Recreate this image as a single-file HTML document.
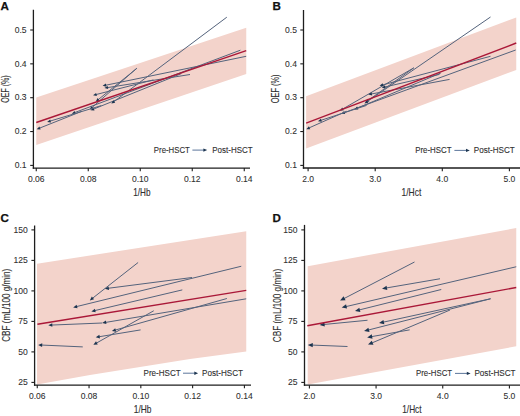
<!DOCTYPE html>
<html><head><meta charset="utf-8"><style>
html,body{margin:0;padding:0;background:#fff;width:520px;height:416px;overflow:hidden;}
svg text{font-family:'Liberation Sans', sans-serif;}
</style></head><body>
<svg width="520" height="416" viewBox="0 0 520 416" style="display:block;font-family:'Liberation Sans', sans-serif">
<rect width="520" height="416" fill="#fff"/>
<clipPath id="ca"><rect x="34.00" y="0" width="216.60" height="167.50"/></clipPath>
<g clip-path="url(#ca)">
<polygon points="36.25,97.60 246.25,27.75 246.25,73.90 36.25,145.10" fill="#f3d3cb"/>
</g>
<line x1="136.80" y1="68.20" x2="92.05" y2="107.51" stroke="#54637c" stroke-width="1.0"/>
<polygon points="89.72,109.56 91.37,105.98 93.48,108.38" fill="#1c3550"/>
<line x1="190.00" y1="74.50" x2="107.48" y2="87.62" stroke="#54637c" stroke-width="1.0"/>
<polygon points="104.42,88.10 107.72,85.96 108.22,89.12" fill="#1c3550"/>
<line x1="240.40" y1="50.20" x2="74.68" y2="112.57" stroke="#54637c" stroke-width="1.0"/>
<polygon points="71.78,113.66 74.59,110.89 75.72,113.89" fill="#1c3550"/>
<line x1="181.40" y1="73.60" x2="93.47" y2="109.13" stroke="#54637c" stroke-width="1.0"/>
<polygon points="90.59,110.29 93.33,107.45 94.53,110.42" fill="#1c3550"/>
<line x1="101.30" y1="105.60" x2="50.12" y2="121.08" stroke="#54637c" stroke-width="1.0"/>
<polygon points="47.16,121.98 50.14,119.40 51.06,122.47" fill="#1c3550"/>
<line x1="153.40" y1="79.90" x2="96.04" y2="94.55" stroke="#54637c" stroke-width="1.0"/>
<polygon points="93.04,95.32 96.13,92.88 96.92,95.98" fill="#1c3550"/>
<line x1="246.20" y1="56.30" x2="105.66" y2="85.24" stroke="#54637c" stroke-width="1.0"/>
<polygon points="102.63,85.86 105.83,83.57 106.48,86.70" fill="#1c3550"/>
<line x1="136.80" y1="68.40" x2="98.20" y2="99.67" stroke="#54637c" stroke-width="1.0"/>
<polygon points="95.79,101.62 97.58,98.11 99.59,100.60" fill="#1c3550"/>
<line x1="226.80" y1="17.20" x2="113.84" y2="101.72" stroke="#54637c" stroke-width="1.0"/>
<polygon points="111.36,103.58 113.28,100.14 115.20,102.70" fill="#1c3550"/>
<line x1="81.80" y1="111.30" x2="39.57" y2="128.13" stroke="#54637c" stroke-width="1.0"/>
<polygon points="36.69,129.28 39.44,126.46 40.63,129.43" fill="#1c3550"/>
<line x1="36.25" y1="122.50" x2="246.25" y2="50.60" stroke="#aa1838" stroke-width="1.4"/>
<line x1="33.40" y1="9.75" x2="33.40" y2="168.75" stroke="#1e1e1e" stroke-width="1.3"/>
<line x1="32.75" y1="168.10" x2="250.00" y2="168.10" stroke="#1e1e1e" stroke-width="1.3"/>
<line x1="30.20" y1="30.00" x2="33.40" y2="30.00" stroke="#1e1e1e" stroke-width="1.1"/>
<text transform="translate(26.60,32.75) scale(0.91,1)" font-size="9.4" text-anchor="end" font-weight="normal" fill="#2e2e2e" stroke="#2e2e2e" stroke-width="0.08">0.5</text>
<line x1="30.20" y1="63.85" x2="33.40" y2="63.85" stroke="#1e1e1e" stroke-width="1.1"/>
<text transform="translate(26.60,66.60) scale(0.91,1)" font-size="9.4" text-anchor="end" font-weight="normal" fill="#2e2e2e" stroke="#2e2e2e" stroke-width="0.08">0.4</text>
<line x1="30.20" y1="97.70" x2="33.40" y2="97.70" stroke="#1e1e1e" stroke-width="1.1"/>
<text transform="translate(26.60,100.45) scale(0.91,1)" font-size="9.4" text-anchor="end" font-weight="normal" fill="#2e2e2e" stroke="#2e2e2e" stroke-width="0.08">0.3</text>
<line x1="30.20" y1="131.55" x2="33.40" y2="131.55" stroke="#1e1e1e" stroke-width="1.1"/>
<text transform="translate(26.60,134.30) scale(0.91,1)" font-size="9.4" text-anchor="end" font-weight="normal" fill="#2e2e2e" stroke="#2e2e2e" stroke-width="0.08">0.2</text>
<line x1="30.20" y1="165.40" x2="33.40" y2="165.40" stroke="#1e1e1e" stroke-width="1.1"/>
<text transform="translate(26.60,168.15) scale(0.91,1)" font-size="9.4" text-anchor="end" font-weight="normal" fill="#2e2e2e" stroke="#2e2e2e" stroke-width="0.08">0.1</text>
<line x1="36.25" y1="168.10" x2="36.25" y2="171.30" stroke="#1e1e1e" stroke-width="1.1"/>
<text transform="translate(36.25,182.00) scale(0.92,1)" font-size="9.3" text-anchor="middle" font-weight="normal" fill="#2e2e2e" stroke="#2e2e2e" stroke-width="0.08">0.06</text>
<line x1="88.25" y1="168.10" x2="88.25" y2="171.30" stroke="#1e1e1e" stroke-width="1.1"/>
<text transform="translate(88.25,182.00) scale(0.92,1)" font-size="9.3" text-anchor="middle" font-weight="normal" fill="#2e2e2e" stroke="#2e2e2e" stroke-width="0.08">0.08</text>
<line x1="140.25" y1="168.10" x2="140.25" y2="171.30" stroke="#1e1e1e" stroke-width="1.1"/>
<text transform="translate(140.25,182.00) scale(0.92,1)" font-size="9.3" text-anchor="middle" font-weight="normal" fill="#2e2e2e" stroke="#2e2e2e" stroke-width="0.08">0.10</text>
<line x1="192.25" y1="168.10" x2="192.25" y2="171.30" stroke="#1e1e1e" stroke-width="1.1"/>
<text transform="translate(192.25,182.00) scale(0.92,1)" font-size="9.3" text-anchor="middle" font-weight="normal" fill="#2e2e2e" stroke="#2e2e2e" stroke-width="0.08">0.12</text>
<line x1="244.25" y1="168.10" x2="244.25" y2="171.30" stroke="#1e1e1e" stroke-width="1.1"/>
<text transform="translate(244.25,182.00) scale(0.92,1)" font-size="9.3" text-anchor="middle" font-weight="normal" fill="#2e2e2e" stroke="#2e2e2e" stroke-width="0.08">0.14</text>
<text x="141.80" y="196.20" font-size="10.3" text-anchor="middle" font-weight="normal" fill="#2e2e2e" stroke="#2e2e2e" stroke-width="0.12" textLength="17.3" lengthAdjust="spacingAndGlyphs">1/Hb</text>
<text transform="translate(9.30,89.00) rotate(-90)" x="0" y="0" font-size="10" text-anchor="middle" fill="#2e2e2e" stroke="#2e2e2e" stroke-width="0.12" textLength="27.3" lengthAdjust="spacingAndGlyphs">OEF (%)</text>
<text x="0.60" y="10.20" font-size="11.6" text-anchor="start" font-weight="bold" fill="#111" stroke="#111" stroke-width="0.25">A</text>
<text x="153.85" y="152.90" font-size="9.2" text-anchor="start" font-weight="normal" fill="#2e2e2e" stroke="#2e2e2e" stroke-width="0.1" textLength="36.05" lengthAdjust="spacingAndGlyphs">Pre-HSCT</text>
<line x1="192.40" y1="150.10" x2="204.20" y2="150.10" stroke="#4a6690" stroke-width="0.9"/>
<polygon points="207.20,150.10 203.40,148.40 203.40,151.80" fill="#1c3550"/>
<text x="212.30" y="152.90" font-size="9.2" text-anchor="start" font-weight="normal" fill="#2e2e2e" stroke="#2e2e2e" stroke-width="0.1" textLength="40.30" lengthAdjust="spacingAndGlyphs">Post-HSCT</text>
<clipPath id="cb"><rect x="304.10" y="0" width="216.50" height="167.40"/></clipPath>
<g clip-path="url(#cb)">
<polygon points="306.10,96.25 516.25,17.50 516.25,70.00 306.10,148.50" fill="#f3d3cb"/>
</g>
<line x1="413.90" y1="67.80" x2="342.56" y2="109.10" stroke="#54637c" stroke-width="1.0"/>
<polygon points="339.87,110.65 342.19,107.46 343.79,110.23" fill="#1c3550"/>
<line x1="439.50" y1="74.40" x2="384.85" y2="87.00" stroke="#54637c" stroke-width="1.0"/>
<polygon points="381.83,87.69 384.98,85.32 385.70,88.44" fill="#1c3550"/>
<line x1="515.70" y1="50.00" x2="344.19" y2="112.68" stroke="#54637c" stroke-width="1.0"/>
<polygon points="341.28,113.75 344.11,111.01 345.21,114.01" fill="#1c3550"/>
<line x1="440.80" y1="73.00" x2="357.26" y2="108.20" stroke="#54637c" stroke-width="1.0"/>
<polygon points="354.40,109.40 357.10,106.53 358.34,109.48" fill="#1c3550"/>
<line x1="366.60" y1="105.40" x2="320.91" y2="120.34" stroke="#54637c" stroke-width="1.0"/>
<polygon points="317.96,121.30 320.89,118.66 321.88,121.71" fill="#1c3550"/>
<line x1="449.60" y1="79.40" x2="371.37" y2="93.97" stroke="#54637c" stroke-width="1.0"/>
<polygon points="368.32,94.54 371.57,92.31 372.15,95.45" fill="#1c3550"/>
<line x1="490.50" y1="56.30" x2="382.54" y2="84.94" stroke="#54637c" stroke-width="1.0"/>
<polygon points="379.54,85.73 382.61,83.26 383.43,86.36" fill="#1c3550"/>
<line x1="413.60" y1="68.00" x2="367.97" y2="100.46" stroke="#54637c" stroke-width="1.0"/>
<polygon points="365.44,102.25 367.45,98.86 369.30,101.47" fill="#1c3550"/>
<line x1="490.50" y1="17.00" x2="367.08" y2="101.68" stroke="#54637c" stroke-width="1.0"/>
<polygon points="364.53,103.44 366.59,100.08 368.40,102.72" fill="#1c3550"/>
<line x1="346.40" y1="111.30" x2="309.14" y2="127.87" stroke="#54637c" stroke-width="1.0"/>
<polygon points="306.31,129.13 308.95,126.20 310.25,129.13" fill="#1c3550"/>
<line x1="306.10" y1="123.10" x2="516.25" y2="43.00" stroke="#aa1838" stroke-width="1.4"/>
<line x1="303.50" y1="10.00" x2="303.50" y2="168.65" stroke="#1e1e1e" stroke-width="1.3"/>
<line x1="302.85" y1="168.00" x2="520.00" y2="168.00" stroke="#1e1e1e" stroke-width="1.3"/>
<line x1="300.30" y1="30.00" x2="303.50" y2="30.00" stroke="#1e1e1e" stroke-width="1.1"/>
<text transform="translate(296.90,32.75) scale(0.91,1)" font-size="9.4" text-anchor="end" font-weight="normal" fill="#2e2e2e" stroke="#2e2e2e" stroke-width="0.08">0.5</text>
<line x1="300.30" y1="63.85" x2="303.50" y2="63.85" stroke="#1e1e1e" stroke-width="1.1"/>
<text transform="translate(296.90,66.60) scale(0.91,1)" font-size="9.4" text-anchor="end" font-weight="normal" fill="#2e2e2e" stroke="#2e2e2e" stroke-width="0.08">0.4</text>
<line x1="300.30" y1="97.70" x2="303.50" y2="97.70" stroke="#1e1e1e" stroke-width="1.1"/>
<text transform="translate(296.90,100.45) scale(0.91,1)" font-size="9.4" text-anchor="end" font-weight="normal" fill="#2e2e2e" stroke="#2e2e2e" stroke-width="0.08">0.3</text>
<line x1="300.30" y1="131.55" x2="303.50" y2="131.55" stroke="#1e1e1e" stroke-width="1.1"/>
<text transform="translate(296.90,134.30) scale(0.91,1)" font-size="9.4" text-anchor="end" font-weight="normal" fill="#2e2e2e" stroke="#2e2e2e" stroke-width="0.08">0.2</text>
<line x1="300.30" y1="165.40" x2="303.50" y2="165.40" stroke="#1e1e1e" stroke-width="1.1"/>
<text transform="translate(296.90,168.15) scale(0.91,1)" font-size="9.4" text-anchor="end" font-weight="normal" fill="#2e2e2e" stroke="#2e2e2e" stroke-width="0.08">0.1</text>
<line x1="308.10" y1="168.00" x2="308.10" y2="171.20" stroke="#1e1e1e" stroke-width="1.1"/>
<text transform="translate(308.10,182.00) scale(0.92,1)" font-size="9.3" text-anchor="middle" font-weight="normal" fill="#2e2e2e" stroke="#2e2e2e" stroke-width="0.08">2.0</text>
<line x1="375.20" y1="168.00" x2="375.20" y2="171.20" stroke="#1e1e1e" stroke-width="1.1"/>
<text transform="translate(375.20,182.00) scale(0.92,1)" font-size="9.3" text-anchor="middle" font-weight="normal" fill="#2e2e2e" stroke="#2e2e2e" stroke-width="0.08">3.0</text>
<line x1="442.30" y1="168.00" x2="442.30" y2="171.20" stroke="#1e1e1e" stroke-width="1.1"/>
<text transform="translate(442.30,182.00) scale(0.92,1)" font-size="9.3" text-anchor="middle" font-weight="normal" fill="#2e2e2e" stroke="#2e2e2e" stroke-width="0.08">4.0</text>
<line x1="509.40" y1="168.00" x2="509.40" y2="171.20" stroke="#1e1e1e" stroke-width="1.1"/>
<text transform="translate(509.40,182.00) scale(0.92,1)" font-size="9.3" text-anchor="middle" font-weight="normal" fill="#2e2e2e" stroke="#2e2e2e" stroke-width="0.08">5.0</text>
<text x="411.40" y="196.20" font-size="10.3" text-anchor="middle" font-weight="normal" fill="#2e2e2e" stroke="#2e2e2e" stroke-width="0.12" textLength="19.7" lengthAdjust="spacingAndGlyphs">1/Hct</text>
<text transform="translate(279.30,88.90) rotate(-90)" x="0" y="0" font-size="10" text-anchor="middle" fill="#2e2e2e" stroke="#2e2e2e" stroke-width="0.12" textLength="28.9" lengthAdjust="spacingAndGlyphs">OEF (%)</text>
<text x="272.40" y="10.20" font-size="11.6" text-anchor="start" font-weight="bold" fill="#111" stroke="#111" stroke-width="0.25">B</text>
<text x="415.20" y="152.70" font-size="9.2" text-anchor="start" font-weight="normal" fill="#2e2e2e" stroke="#2e2e2e" stroke-width="0.1" textLength="36.30" lengthAdjust="spacingAndGlyphs">Pre-HSCT</text>
<line x1="454.40" y1="150.40" x2="466.80" y2="150.40" stroke="#4a6690" stroke-width="0.9"/>
<polygon points="469.80,150.40 466.00,148.70 466.00,152.10" fill="#1c3550"/>
<text x="473.80" y="152.70" font-size="9.2" text-anchor="start" font-weight="normal" fill="#2e2e2e" stroke="#2e2e2e" stroke-width="0.1" textLength="41.00" lengthAdjust="spacingAndGlyphs">Post-HSCT</text>
<clipPath id="cc"><rect x="35.20" y="0" width="216.40" height="384.50"/></clipPath>
<g clip-path="url(#cc)">
<polygon points="37.00,263.70 246.25,231.30 246.25,351.40 190.00,358.90 90.00,375.10 37.00,384.50" fill="#f3d3cb"/>
</g>
<line x1="138.10" y1="262.50" x2="92.55" y2="298.24" stroke="#54637c" stroke-width="1.0"/>
<polygon points="89.80,300.40 91.84,296.51 94.06,299.35" fill="#1c3550"/>
<line x1="192.00" y1="277.50" x2="108.37" y2="288.25" stroke="#54637c" stroke-width="1.0"/>
<polygon points="104.90,288.70 108.64,286.40 109.10,289.98" fill="#1c3550"/>
<line x1="241.25" y1="266.25" x2="76.60" y2="306.57" stroke="#54637c" stroke-width="1.0"/>
<polygon points="73.20,307.40 76.66,304.70 77.51,308.20" fill="#1c3550"/>
<line x1="182.30" y1="289.90" x2="94.81" y2="310.59" stroke="#54637c" stroke-width="1.0"/>
<polygon points="91.40,311.40 94.88,308.73 95.71,312.23" fill="#1c3550"/>
<line x1="102.20" y1="323.00" x2="51.80" y2="325.06" stroke="#54637c" stroke-width="1.0"/>
<polygon points="48.30,325.20 52.22,323.24 52.37,326.84" fill="#1c3550"/>
<line x1="153.75" y1="310.75" x2="96.45" y2="343.08" stroke="#54637c" stroke-width="1.0"/>
<polygon points="93.40,344.80 96.00,341.27 97.77,344.40" fill="#1c3550"/>
<line x1="246.20" y1="298.80" x2="105.65" y2="322.42" stroke="#54637c" stroke-width="1.0"/>
<polygon points="102.20,323.00 105.85,320.56 106.44,324.11" fill="#1c3550"/>
<line x1="140.60" y1="329.90" x2="99.20" y2="336.73" stroke="#54637c" stroke-width="1.0"/>
<polygon points="95.75,337.30 99.40,334.87 99.99,338.42" fill="#1c3550"/>
<line x1="226.90" y1="298.50" x2="115.27" y2="330.05" stroke="#54637c" stroke-width="1.0"/>
<polygon points="111.90,331.00 115.26,328.18 116.24,331.64" fill="#1c3550"/>
<line x1="82.75" y1="346.90" x2="41.70" y2="345.06" stroke="#54637c" stroke-width="1.0"/>
<polygon points="38.20,344.90 42.28,343.28 42.12,346.88" fill="#1c3550"/>
<line x1="37.40" y1="324.30" x2="246.25" y2="290.40" stroke="#aa1838" stroke-width="1.4"/>
<line x1="34.60" y1="225.50" x2="34.60" y2="385.75" stroke="#1e1e1e" stroke-width="1.3"/>
<line x1="33.95" y1="385.10" x2="251.00" y2="385.10" stroke="#1e1e1e" stroke-width="1.3"/>
<line x1="31.40" y1="229.90" x2="34.60" y2="229.90" stroke="#1e1e1e" stroke-width="1.1"/>
<text transform="translate(27.70,232.65) scale(0.91,1)" font-size="9.4" text-anchor="end" font-weight="normal" fill="#2e2e2e" stroke="#2e2e2e" stroke-width="0.08">150</text>
<line x1="31.40" y1="260.40" x2="34.60" y2="260.40" stroke="#1e1e1e" stroke-width="1.1"/>
<text transform="translate(27.70,263.15) scale(0.91,1)" font-size="9.4" text-anchor="end" font-weight="normal" fill="#2e2e2e" stroke="#2e2e2e" stroke-width="0.08">125</text>
<line x1="31.40" y1="290.90" x2="34.60" y2="290.90" stroke="#1e1e1e" stroke-width="1.1"/>
<text transform="translate(27.70,293.65) scale(0.91,1)" font-size="9.4" text-anchor="end" font-weight="normal" fill="#2e2e2e" stroke="#2e2e2e" stroke-width="0.08">100</text>
<line x1="31.40" y1="321.40" x2="34.60" y2="321.40" stroke="#1e1e1e" stroke-width="1.1"/>
<text transform="translate(27.70,324.15) scale(0.91,1)" font-size="9.4" text-anchor="end" font-weight="normal" fill="#2e2e2e" stroke="#2e2e2e" stroke-width="0.08">75</text>
<line x1="31.40" y1="351.90" x2="34.60" y2="351.90" stroke="#1e1e1e" stroke-width="1.1"/>
<text transform="translate(27.70,354.65) scale(0.91,1)" font-size="9.4" text-anchor="end" font-weight="normal" fill="#2e2e2e" stroke="#2e2e2e" stroke-width="0.08">50</text>
<line x1="31.40" y1="382.40" x2="34.60" y2="382.40" stroke="#1e1e1e" stroke-width="1.1"/>
<text transform="translate(27.70,385.15) scale(0.91,1)" font-size="9.4" text-anchor="end" font-weight="normal" fill="#2e2e2e" stroke="#2e2e2e" stroke-width="0.08">25</text>
<line x1="37.25" y1="385.10" x2="37.25" y2="388.30" stroke="#1e1e1e" stroke-width="1.1"/>
<text transform="translate(37.25,398.90) scale(0.92,1)" font-size="9.3" text-anchor="middle" font-weight="normal" fill="#2e2e2e" stroke="#2e2e2e" stroke-width="0.08">0.06</text>
<line x1="89.04" y1="385.10" x2="89.04" y2="388.30" stroke="#1e1e1e" stroke-width="1.1"/>
<text transform="translate(89.04,398.90) scale(0.92,1)" font-size="9.3" text-anchor="middle" font-weight="normal" fill="#2e2e2e" stroke="#2e2e2e" stroke-width="0.08">0.08</text>
<line x1="140.83" y1="385.10" x2="140.83" y2="388.30" stroke="#1e1e1e" stroke-width="1.1"/>
<text transform="translate(140.83,398.90) scale(0.92,1)" font-size="9.3" text-anchor="middle" font-weight="normal" fill="#2e2e2e" stroke="#2e2e2e" stroke-width="0.08">0.10</text>
<line x1="192.62" y1="385.10" x2="192.62" y2="388.30" stroke="#1e1e1e" stroke-width="1.1"/>
<text transform="translate(192.62,398.90) scale(0.92,1)" font-size="9.3" text-anchor="middle" font-weight="normal" fill="#2e2e2e" stroke="#2e2e2e" stroke-width="0.08">0.12</text>
<line x1="244.41" y1="385.10" x2="244.41" y2="388.30" stroke="#1e1e1e" stroke-width="1.1"/>
<text transform="translate(244.41,398.90) scale(0.92,1)" font-size="9.3" text-anchor="middle" font-weight="normal" fill="#2e2e2e" stroke="#2e2e2e" stroke-width="0.08">0.14</text>
<text x="142.60" y="412.90" font-size="10.3" text-anchor="middle" font-weight="normal" fill="#2e2e2e" stroke="#2e2e2e" stroke-width="0.12" textLength="17.7" lengthAdjust="spacingAndGlyphs">1/Hb</text>
<text transform="translate(10.30,305.25) rotate(-90)" x="0" y="0" font-size="10" text-anchor="middle" fill="#2e2e2e" stroke="#2e2e2e" stroke-width="0.12" textLength="73.1" lengthAdjust="spacingAndGlyphs">CBF (mL/100 g/min)</text>
<text x="0.40" y="222.00" font-size="11.6" text-anchor="start" font-weight="bold" fill="#111" stroke="#111" stroke-width="0.25">C</text>
<text x="143.50" y="375.90" font-size="9.2" text-anchor="start" font-weight="normal" fill="#2e2e2e" stroke="#2e2e2e" stroke-width="0.1" textLength="37.20" lengthAdjust="spacingAndGlyphs">Pre-HSCT</text>
<line x1="183.00" y1="373.20" x2="195.10" y2="373.20" stroke="#4a6690" stroke-width="0.9"/>
<polygon points="198.10,373.20 194.30,371.50 194.30,374.90" fill="#1c3550"/>
<text x="202.00" y="375.90" font-size="9.2" text-anchor="start" font-weight="normal" fill="#2e2e2e" stroke="#2e2e2e" stroke-width="0.1" textLength="41.10" lengthAdjust="spacingAndGlyphs">Post-HSCT</text>
<clipPath id="cd"><rect x="305.10" y="0" width="215.50" height="384.60"/></clipPath>
<g clip-path="url(#cd)">
<polygon points="307.70,266.15 516.25,228.10 516.25,346.25 307.70,384.50" fill="#f3d3cb"/>
</g>
<line x1="414.50" y1="262.00" x2="344.09" y2="298.53" stroke="#54637c" stroke-width="1.0"/>
<polygon points="340.10,300.60 343.53,296.34 345.55,300.25" fill="#1c3550"/>
<line x1="440.00" y1="278.75" x2="386.44" y2="287.94" stroke="#54637c" stroke-width="1.0"/>
<polygon points="382.00,288.70 386.56,285.69 387.30,290.02" fill="#1c3550"/>
<line x1="516.25" y1="266.75" x2="346.08" y2="306.57" stroke="#54637c" stroke-width="1.0"/>
<polygon points="341.70,307.60 346.07,304.32 347.07,308.60" fill="#1c3550"/>
<line x1="441.25" y1="289.50" x2="359.37" y2="309.91" stroke="#54637c" stroke-width="1.0"/>
<polygon points="355.00,311.00 359.32,307.66 360.38,311.93" fill="#1c3550"/>
<line x1="367.50" y1="320.25" x2="324.08" y2="324.47" stroke="#54637c" stroke-width="1.0"/>
<polygon points="319.60,324.90 324.36,322.23 324.79,326.61" fill="#1c3550"/>
<line x1="450.00" y1="310.00" x2="372.15" y2="342.85" stroke="#54637c" stroke-width="1.0"/>
<polygon points="368.00,344.60 371.75,340.63 373.46,344.68" fill="#1c3550"/>
<line x1="490.60" y1="298.75" x2="383.40" y2="322.14" stroke="#54637c" stroke-width="1.0"/>
<polygon points="379.00,323.10 383.42,319.88 384.35,324.18" fill="#1c3550"/>
<line x1="409.70" y1="329.85" x2="371.63" y2="336.61" stroke="#54637c" stroke-width="1.0"/>
<polygon points="367.20,337.40 371.74,334.36 372.51,338.69" fill="#1c3550"/>
<line x1="490.60" y1="298.75" x2="368.46" y2="329.99" stroke="#54637c" stroke-width="1.0"/>
<polygon points="364.10,331.10 368.40,327.73 369.49,331.99" fill="#1c3550"/>
<line x1="347.50" y1="346.50" x2="312.30" y2="345.08" stroke="#54637c" stroke-width="1.0"/>
<polygon points="307.80,344.90 312.88,342.90 312.71,347.30" fill="#1c3550"/>
<line x1="307.30" y1="325.80" x2="516.25" y2="287.50" stroke="#aa1838" stroke-width="1.4"/>
<line x1="304.50" y1="224.90" x2="304.50" y2="385.85" stroke="#1e1e1e" stroke-width="1.3"/>
<line x1="303.85" y1="385.20" x2="520.00" y2="385.20" stroke="#1e1e1e" stroke-width="1.3"/>
<line x1="301.30" y1="229.90" x2="304.50" y2="229.90" stroke="#1e1e1e" stroke-width="1.1"/>
<text transform="translate(297.50,232.65) scale(0.91,1)" font-size="9.4" text-anchor="end" font-weight="normal" fill="#2e2e2e" stroke="#2e2e2e" stroke-width="0.08">150</text>
<line x1="301.30" y1="260.40" x2="304.50" y2="260.40" stroke="#1e1e1e" stroke-width="1.1"/>
<text transform="translate(297.50,263.15) scale(0.91,1)" font-size="9.4" text-anchor="end" font-weight="normal" fill="#2e2e2e" stroke="#2e2e2e" stroke-width="0.08">125</text>
<line x1="301.30" y1="290.90" x2="304.50" y2="290.90" stroke="#1e1e1e" stroke-width="1.1"/>
<text transform="translate(297.50,293.65) scale(0.91,1)" font-size="9.4" text-anchor="end" font-weight="normal" fill="#2e2e2e" stroke="#2e2e2e" stroke-width="0.08">100</text>
<line x1="301.30" y1="321.40" x2="304.50" y2="321.40" stroke="#1e1e1e" stroke-width="1.1"/>
<text transform="translate(297.50,324.15) scale(0.91,1)" font-size="9.4" text-anchor="end" font-weight="normal" fill="#2e2e2e" stroke="#2e2e2e" stroke-width="0.08">75</text>
<line x1="301.30" y1="351.90" x2="304.50" y2="351.90" stroke="#1e1e1e" stroke-width="1.1"/>
<text transform="translate(297.50,354.65) scale(0.91,1)" font-size="9.4" text-anchor="end" font-weight="normal" fill="#2e2e2e" stroke="#2e2e2e" stroke-width="0.08">50</text>
<line x1="301.30" y1="382.40" x2="304.50" y2="382.40" stroke="#1e1e1e" stroke-width="1.1"/>
<text transform="translate(297.50,385.15) scale(0.91,1)" font-size="9.4" text-anchor="end" font-weight="normal" fill="#2e2e2e" stroke="#2e2e2e" stroke-width="0.08">25</text>
<line x1="309.40" y1="385.20" x2="309.40" y2="388.40" stroke="#1e1e1e" stroke-width="1.1"/>
<text transform="translate(309.40,398.90) scale(0.92,1)" font-size="9.3" text-anchor="middle" font-weight="normal" fill="#2e2e2e" stroke="#2e2e2e" stroke-width="0.08">2.0</text>
<line x1="376.07" y1="385.20" x2="376.07" y2="388.40" stroke="#1e1e1e" stroke-width="1.1"/>
<text transform="translate(376.07,398.90) scale(0.92,1)" font-size="9.3" text-anchor="middle" font-weight="normal" fill="#2e2e2e" stroke="#2e2e2e" stroke-width="0.08">3.0</text>
<line x1="442.74" y1="385.20" x2="442.74" y2="388.40" stroke="#1e1e1e" stroke-width="1.1"/>
<text transform="translate(442.74,398.90) scale(0.92,1)" font-size="9.3" text-anchor="middle" font-weight="normal" fill="#2e2e2e" stroke="#2e2e2e" stroke-width="0.08">4.0</text>
<line x1="509.41" y1="385.20" x2="509.41" y2="388.40" stroke="#1e1e1e" stroke-width="1.1"/>
<text transform="translate(509.41,398.90) scale(0.92,1)" font-size="9.3" text-anchor="middle" font-weight="normal" fill="#2e2e2e" stroke="#2e2e2e" stroke-width="0.08">5.0</text>
<text x="411.90" y="412.90" font-size="10.3" text-anchor="middle" font-weight="normal" fill="#2e2e2e" stroke="#2e2e2e" stroke-width="0.12" textLength="19.2" lengthAdjust="spacingAndGlyphs">1/Hct</text>
<text transform="translate(280.80,305.45) rotate(-90)" x="0" y="0" font-size="10" text-anchor="middle" fill="#2e2e2e" stroke="#2e2e2e" stroke-width="0.12" textLength="73.5" lengthAdjust="spacingAndGlyphs">CBF (mL/100 g/min)</text>
<text x="272.40" y="222.00" font-size="11.6" text-anchor="start" font-weight="bold" fill="#111" stroke="#111" stroke-width="0.25">D</text>
<text x="416.00" y="375.70" font-size="9.2" text-anchor="start" font-weight="normal" fill="#2e2e2e" stroke="#2e2e2e" stroke-width="0.1" textLength="36.10" lengthAdjust="spacingAndGlyphs">Pre-HSCT</text>
<line x1="455.00" y1="373.40" x2="467.60" y2="373.40" stroke="#4a6690" stroke-width="0.9"/>
<polygon points="470.60,373.40 466.80,371.70 466.80,375.10" fill="#1c3550"/>
<text x="474.40" y="375.70" font-size="9.2" text-anchor="start" font-weight="normal" fill="#2e2e2e" stroke="#2e2e2e" stroke-width="0.1" textLength="41.20" lengthAdjust="spacingAndGlyphs">Post-HSCT</text>
</svg>
</body></html>
